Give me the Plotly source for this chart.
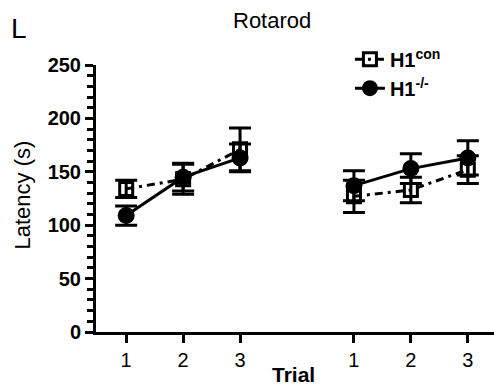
import plotly.graph_objects as go

# x positions of the two trial blocks (block 2 shifted to leave a gap)
block1_x = [1, 2, 3]
block2_x = [5, 6, 7]
tick_labels = ["1", "2", "3", "1", "2", "3"]

# H1con (open squares, dash-dot)
con_b1 = [134, 143, 171]
con_b1_err = [8, 14, 20]
con_b2 = [127, 133, 152]
con_b2_err = [15, 12, 13]

# H1-/- (filled circles, solid)
ko_b1 = [109, 145, 163]
ko_b1_err = [9, 13, 13]
ko_b2 = [137, 153, 163]
ko_b2_err = [14, 14, 16]

def join(a, b):
    return a + [None] + b

x_all = join(block1_x, block2_x)
FONT = "Liberation Sans, Arial"

fig = go.Figure()
fig.add_trace(go.Scatter(
    x=x_all, y=join(con_b1, con_b2),
    error_y=dict(type="data", array=join(con_b1_err, con_b2_err), color="black", thickness=3, width=11),
    mode="lines+markers", name="<b>H1<sup>con</sup></b>",
    line=dict(color="black", width=3, dash="8px,5px,3px,5px"),
    marker=dict(symbol="square-open", size=13, color="black", line=dict(width=3, color="black")),
))
fig.add_trace(go.Scatter(
    x=x_all, y=join(ko_b1, ko_b2),
    error_y=dict(type="data", array=join(ko_b1_err, ko_b2_err), color="black", thickness=3, width=11),
    mode="lines+markers", name="<b>H1<sup>-/-</sup></b>",
    line=dict(color="black", width=3),
    marker=dict(symbol="circle", size=17, color="black"),
))

fig.update_layout(
    width=494, height=389,
    margin=dict(l=96, r=0, t=65, b=57, autoexpand=False),
    plot_bgcolor="white", paper_bgcolor="white",
    font=dict(family=FONT, color="black"),
    showlegend=True,
    legend=dict(x=0.638, y=1.095, xanchor="left", yanchor="top", bgcolor="rgba(0,0,0,0)",
                font=dict(size=20, family=FONT), itemwidth=30, tracegroupgap=0),
    annotations=[
        dict(text="Rotarod", x=0.442, y=1.0, xref="paper", yref="paper", xanchor="center",
             yanchor="middle", yshift=45, showarrow=False, font=dict(size=22)),
        dict(text="L", x=0, y=1, xref="paper", yref="paper", xanchor="left", xshift=-87,
             yanchor="middle", yshift=37, showarrow=False, font=dict(size=28)),
        dict(text="Latency (s)", x=0, y=0.5, xref="paper", yref="paper", xanchor="center",
             yanchor="middle", xshift=-74, yshift=3, textangle=-90, showarrow=False,
             font=dict(size=22)),
        dict(text="<b>Trial</b>", x=0.495, y=0, xref="paper", yref="paper", xanchor="center",
             yanchor="bottom", yshift=-56, showarrow=False, font=dict(size=21)),
    ],
)
fig.update_xaxes(
    range=[0.47, 7.46], tickvals=x_all[:3] + x_all[4:], ticktext=tick_labels,
    tickprefix="<b>", ticksuffix="</b>",
    showgrid=False, zeroline=False, showline=True, linecolor="black", linewidth=3,
    ticks="outside", ticklen=8, tickwidth=3, tickcolor="black",
    tickfont=dict(size=20, family=FONT),
)
fig.update_yaxes(
    range=[0, 250], dtick=50, tickprefix="<b>", ticksuffix="</b>",
    showgrid=False, zeroline=False, showline=True, linecolor="black", linewidth=3,
    ticks="outside", ticklen=8, tickwidth=3, tickcolor="black",
    minor=dict(dtick=10, ticks="outside", ticklen=6, tickwidth=2.5, tickcolor="black"),
    tickfont=dict(size=20, family=FONT),
)

fig.write_html("out.html", config={"displayModeBar": False},
               post_script="document.body.style.margin='0';")
